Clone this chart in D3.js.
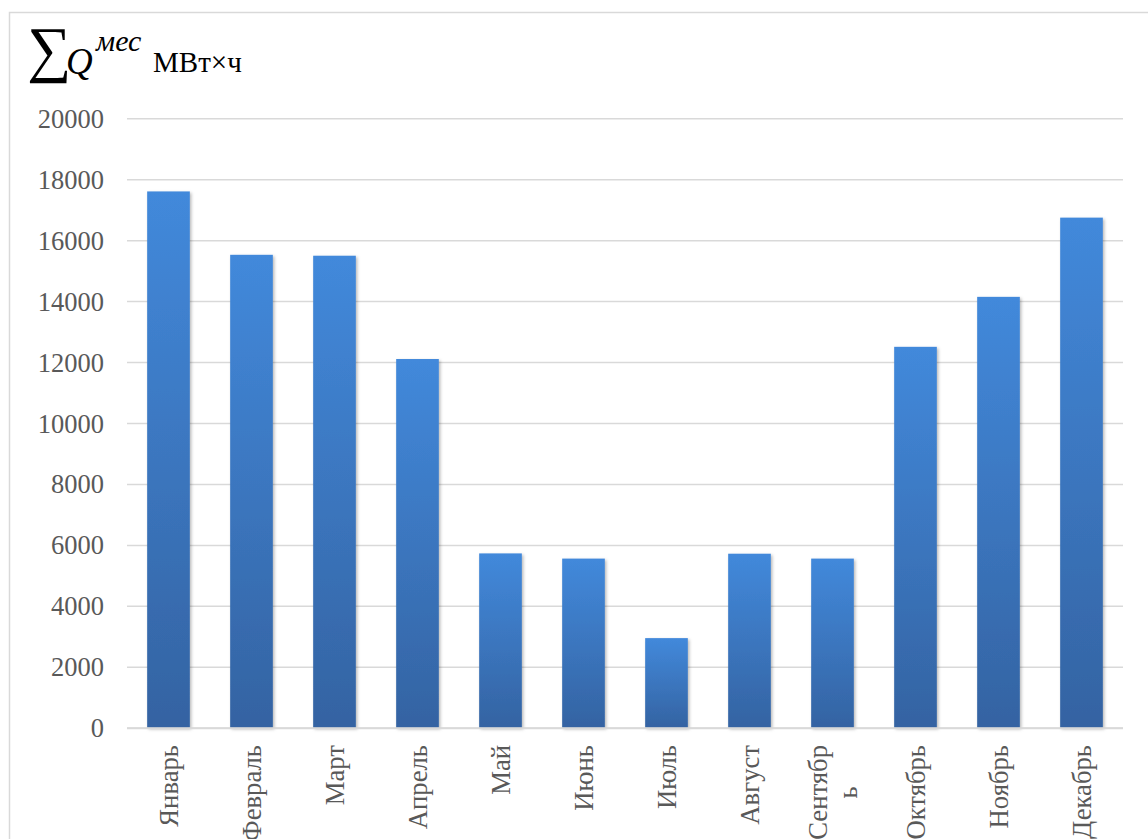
<!DOCTYPE html>
<html>
<head>
<meta charset="utf-8">
<script src="https://cdn.jsdelivr.net/npm/d3@7"></script>
<style>
  html, body { margin: 0; padding: 0; background: #ffffff; }
  svg { display: block; }
  .serif { font-family: "Liberation Serif"; }
</style>
</head>
<body>
<svg id="chart" width="1148" height="839"></svg>
<script>
// Monthly heat totals, MWh
const months = ["Январь", "Февраль", "Март", "Апрель", "Май", "Июнь",
                "Июль", "Август", "Сентябрь", "Октябрь", "Ноябрь", "Декабрь"];
const heatTotals = [17600, 15520, 15490, 12100, 5720, 5550,
                    2940, 5710, 5550, 12500, 14140, 16740];
const yTicks = [0, 2000, 4000, 6000, 8000, 10000, 12000, 14000, 16000, 18000, 20000];

const svg = d3.select("#chart");
const W = 1148, H = 839;
const plot = { left: 127, right: 1123, top: 118.3, bottom: 727.7 };

// outer chart frame
svg.append("rect")
  .attr("x", 9.5).attr("y", 12.5)
  .attr("width", W + 10).attr("height", H + 10)
  .attr("fill", "#ffffff").attr("stroke", "#d9d9d9").attr("stroke-width", 1.5);

const x = d3.scaleBand().domain(months).range([plot.left, plot.right]).paddingInner(0.486).paddingOuter(0.243);
const y = d3.scaleLinear().domain([0, 20000]).range([plot.bottom, plot.top]);

const defs = svg.append("defs");
const grad = defs.append("linearGradient")
  .attr("id", "barFill").attr("x1", 0).attr("y1", 0).attr("x2", 0).attr("y2", 1);
grad.append("stop").attr("offset", "0%").attr("stop-color", "#4289db");
grad.append("stop").attr("offset", "100%").attr("stop-color", "#3463a2");

const shadow = defs.append("filter").attr("id", "barShadow")
  .attr("x", "-20%").attr("y", "-5%").attr("width", "150%").attr("height", "115%");
shadow.append("feDropShadow")
  .attr("dx", 1.5).attr("dy", 1.5).attr("stdDeviation", 1.6)
  .attr("flood-color", "#000").attr("flood-opacity", 0.28);

// horizontal gridlines and tick labels
const yAxis = d3.axisLeft(y).tickValues(yTicks).tickSize(-(plot.right - plot.left)).tickPadding(23).tickFormat(d3.format("d"));
const gy = svg.append("g").attr("transform", `translate(${plot.left},0)`).call(yAxis)
  .attr("font-family", null).attr("font-size", null);
gy.select(".domain").remove();
gy.selectAll(".tick line").attr("stroke", "#d9d9d9").attr("stroke-width", 1.5);
gy.selectAll(".tick text")
  .attr("class", "serif")
  .attr("fill", "#595959")
  .style("font-size", "26.5px")
  .attr("dy", "0.34em");

// bars
svg.append("g").selectAll("rect")
  .data(months.map((m, i) => ({ m, v: heatTotals[i] })))
  .join("rect")
  .attr("x", d => x(d.m))
  .attr("y", d => y(d.v))
  .attr("width", x.bandwidth())
  .attr("height", d => y(0) - y(d.v))
  .attr("fill", "url(#barFill)")
  .attr("filter", "url(#barShadow)");

// category axis line
svg.append("line")
  .attr("x1", plot.left).attr("x2", plot.right)
  .attr("y1", y(0) + 0.5).attr("y2", y(0) + 0.5)
  .attr("stroke", "#d9d9d9").attr("stroke-width", 2);

// rotated month labels, wrapped by character when too long
const maxLabel = 101;
const labelTop = 745;
const lineGap = 30;
const gx = svg.append("g");
const probe = gx.append("text").attr("class", "serif").style("font-size", "26.7px");
function wrap(str) {
  const lines = [];
  let cur = "";
  for (const ch of str) {
    probe.text(cur + ch);
    if (cur && probe.node().getComputedTextLength() > maxLabel) { lines.push(cur); cur = ch; }
    else cur += ch;
  }
  lines.push(cur);
  return lines;
}
months.forEach(m => {
  const lines = wrap(m);
  const widths = lines.map(l => { probe.text(l); return probe.node().getComputedTextLength(); });
  const blockLen = d3.max(widths);
  const cx = x(m) + x.bandwidth() / 2;
  lines.forEach((l, i) => {
    const lx = cx + (i - (lines.length - 1) / 2) * lineGap;
    const ly = labelTop + blockLen / 2;
    gx.append("text")
      .attr("class", "serif")
      .attr("transform", `translate(${lx},${ly}) rotate(-90)`)
      .attr("text-anchor", "middle")
      .attr("dy", "0.35em")
      .attr("fill", "#595959")
      .style("font-size", "26.7px")
      .text(l);
  });
});
probe.remove();

// axis title: ΣQ^мес МВт×ч
const title = svg.append("text").attr("class", "serif").attr("fill", "#000")
  .attr("x", 27).attr("y", 70);
title.append("tspan").style("font-size", "62px").text("∑");
title.append("tspan").attr("x", 66).attr("dy", 4).style("font-size", "37px").style("font-style", "italic").text("Q");
title.append("tspan").attr("x", 96).attr("dy", -23).style("font-size", "30px").style("font-style", "italic").text("мес");
title.append("tspan").attr("x", 153).attr("dy", 21).style("font-size", "29px").text("МВт×ч");
</script>
</body>
</html>
